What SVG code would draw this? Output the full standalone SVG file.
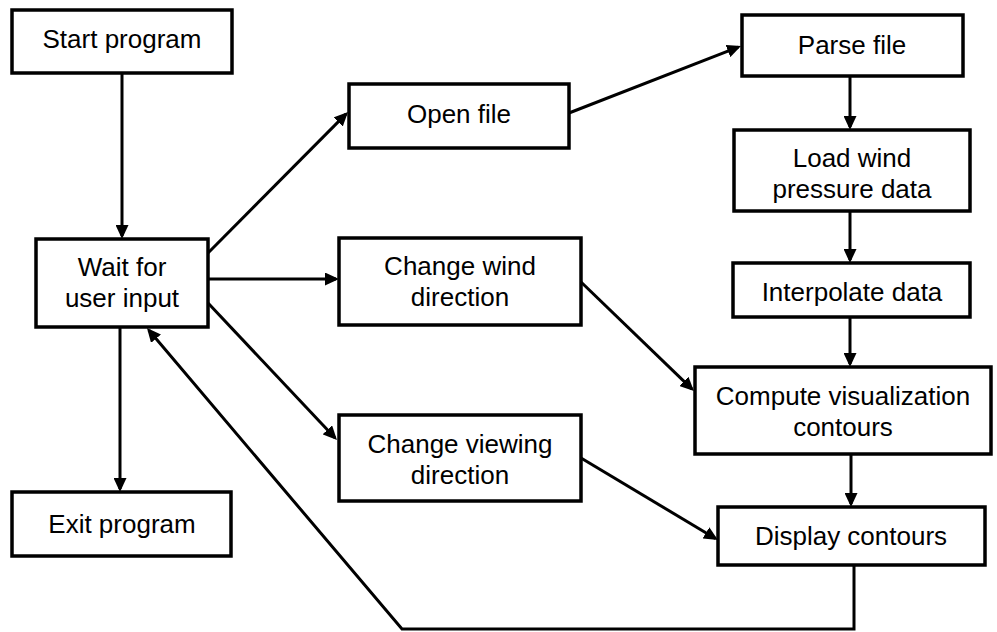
<svg xmlns="http://www.w3.org/2000/svg" width="997" height="632" viewBox="0 0 997 632">
<style>
.box{fill:#fff;stroke:#000;stroke-width:3.5}
.t{font-family:"Liberation Sans",Arial,sans-serif;font-size:26px;fill:#000;text-anchor:middle}
.c{fill:none;stroke:#000;stroke-width:3;marker-end:url(#ah)}
</style>
<defs>
<marker id="ah" markerUnits="userSpaceOnUse" markerWidth="15" markerHeight="13" refX="11" refY="6.5" orient="auto"><path d="M0,0 L14,6.5 L0,13 z" fill="#000"/></marker>
</defs>
<rect width="997" height="632" fill="#fff"/>
<g id="connectors">
<path class="c" d="M122,73 L122,236"/>
<path class="c" d="M120,327 L120,489"/>
<path class="c" d="M208,253 L345.9,114.1"/>
<path class="c" d="M208,279 L336,279"/>
<path class="c" d="M208,303 L334.9,437.8"/>
<path class="c" d="M569,113 L738.2,47.1"/>
<path class="c" d="M850,76 L850,127"/>
<path class="c" d="M850,211 L850,260"/>
<path class="c" d="M850,317 L850,364"/>
<path class="c" d="M581,282 L691.8,388.9"/>
<path class="c" d="M851,454 L851,504"/>
<path class="c" d="M581,458 L715.4,538.5"/>
<path class="c" d="M854,565 L854,629 L402,629 L148.9,330.3"/>
</g>
<g id="start"><rect class="box" x="12" y="10" width="220" height="63"/><text class="t" x="122" y="48">Start program</text></g>
<g id="wait"><rect class="box" x="36" y="239" width="172" height="88"/><text class="t" x="122" y="276">Wait for</text><text class="t" x="122" y="307">user input</text></g>
<g id="exit"><rect class="box" x="12" y="492" width="219" height="64"/><text class="t" x="122" y="533">Exit program</text></g>
<g id="open"><rect class="box" x="349" y="84" width="220" height="64"/><text class="t" x="459" y="123">Open file</text></g>
<g id="wind"><rect class="box" x="339" y="238" width="242" height="87"/><text class="t" x="460" y="275">Change wind</text><text class="t" x="460" y="306">direction</text></g>
<g id="view"><rect class="box" x="339" y="415" width="242" height="86"/><text class="t" x="460" y="453">Change viewing</text><text class="t" x="460" y="484">direction</text></g>
<g id="parse"><rect class="box" x="742" y="15" width="221" height="61"/><text class="t" x="852" y="54">Parse file</text></g>
<g id="load"><rect class="box" x="734" y="130" width="236" height="81"/><text class="t" x="852" y="167">Load wind</text><text class="t" x="852" y="198">pressure data</text></g>
<g id="interp"><rect class="box" x="733" y="263" width="237" height="54"/><text class="t" x="852" y="301">Interpolate data</text></g>
<g id="compute"><rect class="box" x="695" y="367" width="296" height="87"/><text class="t" x="843" y="405">Compute visualization</text><text class="t" x="843" y="436">contours</text></g>
<g id="display"><rect class="box" x="718" y="507" width="267" height="58"/><text class="t" x="851" y="545">Display contours</text></g>
</svg>
